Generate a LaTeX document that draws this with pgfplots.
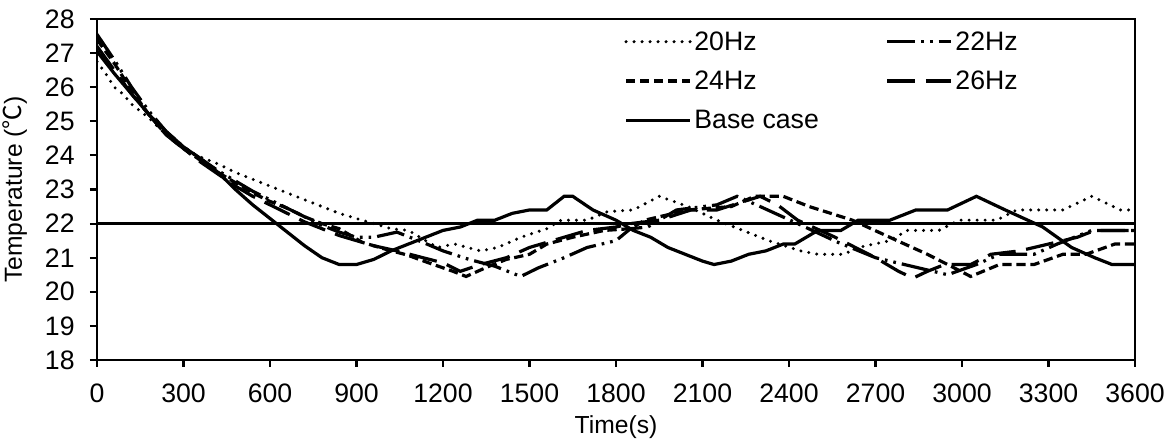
\documentclass[border=0pt]{standalone}
\usepackage{fontspec}
\setmainfont{Liberation Sans}
\newfontfamily\cjk{Noto Sans CJK SC}
\usepackage{pgfplots}
\pgfplotsset{compat=1.18}

\pgfplotsset{
  hz20/.style={black,line width=2.5pt,line cap=round,dash pattern=on 0pt off 6pt},
  hz22/.style={black,line width=2.4pt,dash pattern=on 21pt off 4.5pt on 2pt off 4.5pt on 2pt off 4.5pt},
  hz24/.style={black,line width=2.4pt,dash pattern=on 7pt off 3.5pt},
  hz26/.style={black,line width=2.4pt,dash pattern=on 21pt off 8pt},
  base/.style={black,line width=2.4pt},
}

\begin{document}
\begin{tikzpicture}
\begin{axis}[
    scale only axis,
    width=778.5pt,height=255.75pt,
    xmin=0,xmax=3600,ymin=18,ymax=28,
    xtick={0,300,...,3600},ytick={18,19,...,28},
    xtick pos=left,ytick pos=left,
    tick align=outside,major tick length=5.25pt,
    axis line style={line width=1.9pt},
    every tick/.style={black,line width=1.6pt},
    font=\fontsize{20}{23}\selectfont,
    /pgf/number format/assume math mode=true,
    /pgf/number format/set thousands separator={},
    xticklabel style={yshift=-9pt},
    yticklabel style={xshift=-8pt},
    xlabel={Time(s)},
    ylabel={Temperature ({\cjk ℃})},
    xlabel style={at={(axis description cs:0.5,0)},anchor=center,yshift=-50pt,
      font=\fontsize{18.5}{22}\selectfont},
    ylabel style={at={(axis description cs:-0.079,0.5)},anchor=center,
      font=\fontsize{18.5}{22}\selectfont},
    legend columns=2,
    legend cell align=left,
    legend style={at={(rel axis cs:0.504,0.98)},anchor=north west,draw=none,fill=none,
      font=\fontsize{20}{23}\selectfont,
      /tikz/every even column/.append style={column sep=48pt},
      /tikz/row sep=10pt},
    legend image code/.code={\draw[#1] (0pt,0pt) -- (48pt,0pt);},
]
\addplot[hz20] coordinates {(0,26.75)(30,26.4)(60,26.0)(90,25.8)(120,25.5)(180,25.1)(240,24.6)(300,24.2)(360,23.95)(420,23.75)(480,23.5)(540,23.3)(600,23.1)(660,22.9)(720,22.7)(780,22.5)(840,22.3)(900,22.15)(960,22.0)(1020,21.85)(1080,21.8)(1140,21.5)(1180,21.3)(1240,21.4)(1330,21.2)(1390,21.3)(1470,21.6)(1560,21.85)(1610,22.1)(1700,22.1)(1770,22.35)(1860,22.4)(1950,22.8)(2050,22.5)(2150,22.1)(2240,21.8)(2330,21.5)(2440,21.2)(2500,21.1)(2590,21.1)(2640,21.3)(2750,21.5)(2810,21.8)(2920,21.8)(2990,22.1)(3120,22.1)(3190,22.4)(3350,22.4)(3450,22.8)(3550,22.4)(3600,22.4)};
\addlegendentry{20Hz}
\addplot[hz22] coordinates {(0,27.55)(60,26.8)(120,26.0)(180,25.3)(240,24.7)(300,24.25)(360,23.9)(420,23.55)(480,23.25)(540,22.95)(600,22.7)(660,22.45)(720,22.2)(780,21.95)(840,21.75)(900,21.6)(960,21.6)(1040,21.75)(1130,21.45)(1200,21.2)(1290,20.95)(1380,20.75)(1470,20.45)(1530,20.7)(1620,21.0)(1700,21.3)(1800,21.5)(1850,21.85)(1910,21.9)(2010,22.4)(2150,22.55)(2220,22.8)(2300,22.5)(2430,22.0)(2570,21.45)(2700,21.0)(2800,20.8)(2950,20.5)(3050,20.8)(3130,21.1)(3250,21.1)(3330,21.4)(3450,21.8)(3600,21.8)};
\addlegendentry{22Hz}
\addplot[hz24] coordinates {(0,27.4)(60,26.7)(120,25.9)(180,25.2)(240,24.6)(300,24.2)(360,23.85)(420,23.5)(480,23.2)(540,22.9)(600,22.65)(660,22.45)(720,22.2)(780,22.0)(840,21.85)(920,21.45)(1000,21.25)(1075,21.08)(1150,20.85)(1235,20.6)(1280,20.45)(1360,20.75)(1420,20.95)(1500,21.1)(1560,21.4)(1650,21.6)(1760,21.8)(1850,21.85)(1900,22.1)(2050,22.4)(2200,22.5)(2280,22.8)(2380,22.8)(2470,22.5)(2620,22.1)(2775,21.5)(2880,21.1)(2950,20.8)(3030,20.45)(3130,20.8)(3250,20.8)(3350,21.1)(3430,21.1)(3530,21.4)(3600,21.4)};
\addlegendentry{24Hz}
\addplot[hz26] coordinates {(0,27.2)(60,26.5)(120,25.8)(180,25.2)(240,24.6)(300,24.2)(360,23.8)(420,23.45)(480,23.1)(540,22.8)(600,22.55)(660,22.3)(720,22.05)(780,21.85)(840,21.65)(900,21.5)(960,21.35)(1040,21.2)(1130,21.0)(1200,20.85)(1260,20.6)(1330,20.8)(1420,21.0)(1500,21.3)(1600,21.55)(1700,21.8)(1800,21.9)(1850,22.0)(1950,22.1)(2060,22.4)(2150,22.4)(2300,22.8)(2360,22.55)(2430,22.1)(2560,21.6)(2700,21.0)(2780,20.6)(2830,20.4)(2880,20.6)(2940,20.8)(3030,20.8)(3100,21.1)(3200,21.2)(3300,21.4)(3400,21.6)(3460,21.8)(3600,21.8)};
\addlegendentry{26Hz}
\addplot[base] coordinates {(0,27.05)(60,26.4)(120,25.8)(180,25.2)(240,24.7)(300,24.25)(360,23.9)(420,23.5)(480,23.0)(540,22.55)(600,22.15)(660,21.75)(720,21.35)(780,21.0)(840,20.8)(900,20.8)(960,20.95)(1020,21.2)(1080,21.4)(1140,21.6)(1200,21.8)(1260,21.9)(1320,22.1)(1380,22.1)(1440,22.3)(1500,22.4)(1560,22.4)(1620,22.8)(1650,22.8)(1720,22.4)(1800,22.1)(1860,21.8)(1920,21.6)(1980,21.3)(2040,21.1)(2100,20.9)(2140,20.8)(2200,20.9)(2260,21.1)(2320,21.2)(2380,21.4)(2420,21.4)(2500,21.8)(2580,21.8)(2640,22.1)(2750,22.1)(2840,22.4)(2950,22.4)(3050,22.8)(3150,22.4)(3280,21.9)(3380,21.3)(3460,21.0)(3520,20.8)(3600,20.8)};
\addlegendentry{Base case}
\addplot[base,forget plot] coordinates {(0,22)(3600,22)};
\end{axis}
\pgfresetboundingbox
\path ([shift={(-72.75pt,-60.75pt)}]current axis.south west) rectangle ([shift={(25.5pt,14.25pt)}]current axis.north east);
\end{tikzpicture}
\end{document}
